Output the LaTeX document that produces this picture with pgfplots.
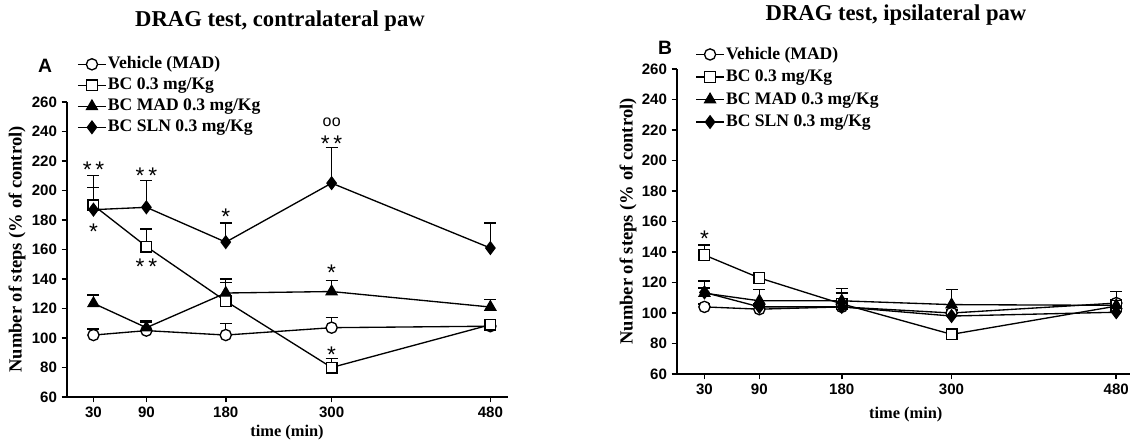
\documentclass[border=0pt]{standalone}
\usepackage{fontspec}
\setmainfont{Liberation Serif}
\newfontfamily\arialf{Liberation Sans}
\usepackage{pgfplots}
\usepackage{pgfplotstable}
\pgfplotsset{compat=1.18}

% left panel (contralateral)
\pgfplotstableread{
x y e
30 102 4
90 105 6
180 102 8
300 107 7
480 108 3
}\LVeh
\pgfplotstableread{
x y e
30 190 12
90 162 12
180 125 12.5
300 80 6
480 109 3
}\LBC
\pgfplotstableread{
x y e
30 123.5 5.7
90 107 5
180 130.5 9.5
300 131.5 7.5
480 121 5
}\LMAD
\pgfplotstableread{
x y e
30 187 23
90 188.6 18
180 165 13
300 205 24.3
480 161 17
}\LSLN
% right panel (ipsilateral)
\pgfplotstableread{
x y e
30 104 2
90 102.5 2
180 104 4
300 100 2
480 106.5 7.5
}\RVeh
\pgfplotstableread{
x y e
30 138 6.6
90 123 3
180 106 7
300 86 2
480 104.5 4
}\RBC
\pgfplotstableread{
x y e
30 113 8
90 108 7.5
180 108 8
300 105.5 10
480 105 3
}\RMAD
\pgfplotstableread{
x y e
30 113.5 3
90 104 2
180 104 2
300 98 2
480 100.5 2
}\RSLN

\tikzset{ast/.style={font=\arialf\fontsize{17}{17}\selectfont, inner sep=0pt}}
\pgfplotsset{
  drag/.style={
    scale only axis,
    axis lines=left,
    axis line style={line width=1.2pt,-},
    xmin=0, ymin=60, ymax=260,
    xtick={30,90,180,300,480},
    ytick={60,80,...,260},
    tick align=outside,
    major tick length=4pt,
    tick style={line width=1.2pt,black},
    /pgf/number format/assume math mode=true,
    ticklabel style={font=\arialf\bfseries\fontsize{11.3}{13}\selectfont},
    xlabel={time (min)},
    ylabel={Number of steps (\% of control)},
    xlabel style={font=\bfseries\fontsize{12.3}{14}\selectfont},
    ylabel style={font=\bfseries\fontsize{13.9}{16}\selectfont},
    clip=false,
    legend cell align=left,
    legend image code/.code={\draw[mark repeat=2,mark phase=2] plot coordinates {(0pt,0pt)(10.5pt,0pt)(21pt,0pt)};},
  },
  ser/.style={black, line width=1pt, mark size=4pt,
    error bars/y dir=plus, error bars/y explicit,
    error bars/error bar style={line width=1pt},
    error bars/error mark options={rotate=90, mark size=4.5pt, line width=1.1pt}},
  veh/.style={ser, mark=*, mark options={fill=white, draw=black, line width=1pt, mark size=4.2pt}},
  bcs/.style={ser, mark=square*, mark options={fill=white, draw=black, line width=1pt, mark size=4pt}},
  mad/.style={ser, mark=triangle*, mark options={fill=black, draw=black, mark size=4.6pt}},
  sln/.style={ser, mark=diamond*, mark options={fill=black, draw=black, mark size=4.6pt}},
}

\begin{document}
\begin{tikzpicture}[x=0.75pt,y=0.75pt]
\useasboundingbox (0,0) rectangle (1130,443);

% ---------- Panel A ----------
\begin{axis}[drag,
  at={(50.25pt,34.5pt)}, anchor=south west,
  width=330.75pt, height=221.25pt,
  xmax=500,
  xlabel style={at={(axis description cs:0.499,-0.122)}, anchor=center},
  ylabel style={at={(axis description cs:-0.1134,0.5)}, anchor=center},
  legend style={draw=none, fill=none, at={(0.0227,1.158)}, anchor=north west,
    font=\bfseries\fontsize{13.2}{15}\selectfont, inner sep=0pt, row sep=2.75pt,
    nodes={inner xsep=1pt, inner ysep=0pt, text height=10pt, text depth=3pt}},
]
\addplot[veh] table[x=x,y=y,y error=e]{\LVeh};
\addlegendentry{Vehicle (MAD)}
\addplot[bcs] table[x=x,y=y,y error=e]{\LBC};
\addlegendentry{BC 0.3 mg/Kg}
\addplot[mad] table[x=x,y=y,y error=e]{\LMAD};
\addlegendentry{BC MAD 0.3 mg/Kg}
\addplot[sln] table[x=x,y=y,y error=e]{\LSLN};
\addlegendentry{BC SLN 0.3 mg/Kg}
\node[ast] at (axis cs:30,214) {*\,*};
\node[ast] at (axis cs:30,172) {*};
\node[ast] at (axis cs:90,210) {*\,*};
\node[ast] at (axis cs:90,148) {*\,*};
\node[ast] at (axis cs:180,182) {*};
\node[ast] at (axis cs:300,232) {*\,*};
\node[ast] at (axis cs:300,144.5) {*};
\node[ast] at (axis cs:300,89) {*};
\node[font=\arialf\fontsize{12}{12}\selectfont, inner sep=0pt] at (axis cs:300,246.5) {o\kern0.3pt o};
\end{axis}

% ---------- Panel B ----------
\begin{axis}[drag,
  at={(507.75pt,51.75pt)}, anchor=south west,
  width=339.75pt, height=228.75pt,
  xmax=495,
  xlabel style={at={(axis description cs:0.505,-0.134)}, anchor=center},
  ylabel style={at={(axis description cs:-0.108,0.5)}, anchor=center},
  legend style={draw=none, fill=none, at={(0.04,1.077)}, anchor=north west,
    font=\bfseries\fontsize{13.2}{15}\selectfont, inner sep=0pt, row sep=3.9pt,
    nodes={inner xsep=1pt, inner ysep=0pt, text height=10pt, text depth=3pt}},
]
\addplot[veh] table[x=x,y=y,y error=e]{\RVeh};
\addlegendentry{Vehicle (MAD)}
\addplot[bcs] table[x=x,y=y,y error=e]{\RBC};
\addlegendentry{BC 0.3 mg/Kg}
\addplot[mad] table[x=x,y=y,y error=e]{\RMAD};
\addlegendentry{BC MAD 0.3 mg/Kg}
\addplot[sln] table[x=x,y=y,y error=e]{\RSLN};
\addlegendentry{BC SLN 0.3 mg/Kg}
\node[ast] at (axis cs:30,149) {*};
\end{axis}

% titles and panel letters
\node[font=\bfseries\fontsize{17}{20}\selectfont] at (280,422) {DRAG test, contralateral paw};
\node[font=\bfseries\fontsize{17}{20}\selectfont] at (896,428) {DRAG test, ipsilateral paw};
\node[font=\arialf\bfseries\fontsize{14.5}{16}\selectfont] at (45,377) {A};
\node[font=\arialf\bfseries\fontsize{14.5}{16}\selectfont] at (665,395) {B};
\end{tikzpicture}
\end{document}
